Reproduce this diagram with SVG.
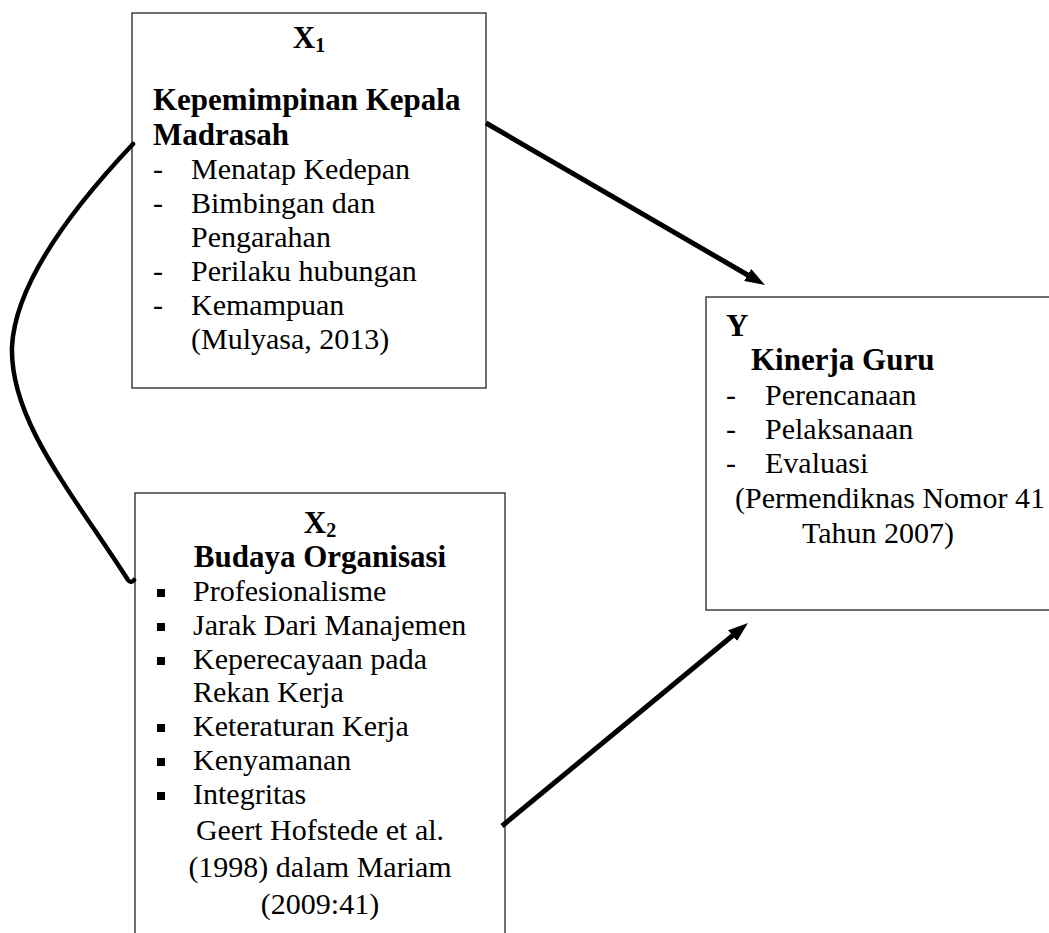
<svg xmlns="http://www.w3.org/2000/svg" width="1049" height="933" viewBox="0 0 1049 933">
<style>
text{font-family:"Liberation Serif","Times New Roman",serif;font-size:30px;fill:#000}
.b{font-weight:bold;font-size:31px}
.m{text-anchor:middle}
.box{fill:#fff;stroke:#222;stroke-width:1.3}
.conn{fill:none;stroke:#000;stroke-width:5}
.curve{fill:none;stroke:#000;stroke-width:4.5;stroke-linecap:round}
</style>
<defs>
<marker id="ah" viewBox="0 0 20 14" refX="5" refY="7" markerWidth="20" markerHeight="14" markerUnits="userSpaceOnUse" orient="auto">
<path d="M0,0 L20,7 L0,14 z" fill="#000"/>
</marker>
</defs>
<g id="node-x1">
<rect class="box" x="132" y="13" width="354" height="375"/>
<text class="b m" x="309" y="48">X<tspan font-size="20" dy="4">1</tspan></text>
<text class="b" x="153" y="110">Kepemimpinan Kepala</text>
<text class="b" x="153" y="145">Madrasah</text>
<text x="153" y="179">-</text><text x="191" y="179">Menatap Kedepan</text>
<text x="153" y="213">-</text><text x="191" y="213">Bimbingan dan</text>
<text x="191" y="247">Pengarahan</text>
<text x="153" y="281">-</text><text x="191" y="281">Perilaku hubungan</text>
<text x="153" y="315">-</text><text x="191" y="315">Kemampuan</text>
<text x="191" y="349">(Mulyasa, 2013)</text>
</g>
<g id="node-x2">
<rect class="box" x="135" y="493" width="370" height="460"/>
<text class="b m" x="320" y="533">X<tspan font-size="20" dy="4">2</tspan></text>
<text class="b m" x="320" y="567">Budaya Organisasi</text>
<g fill="#000">
<rect x="157" y="589" width="8" height="8"/>
<rect x="157" y="623" width="8" height="8"/>
<rect x="157" y="657" width="8" height="8"/>
<rect x="157" y="724" width="8" height="8"/>
<rect x="157" y="758" width="8" height="8"/>
<rect x="157" y="792" width="8" height="8"/>
</g>
<text x="193" y="601">Profesionalisme</text>
<text x="193" y="635">Jarak Dari Manajemen</text>
<text x="193" y="669">Keperecayaan pada</text>
<text x="193" y="702">Rekan Kerja</text>
<text x="193" y="736">Keteraturan Kerja</text>
<text x="193" y="770">Kenyamanan</text>
<text x="193" y="804">Integritas</text>
<text class="m" x="320" y="840">Geert Hofstede et al.</text>
<text class="m" x="320" y="877">(1998) dalam Mariam</text>
<text class="m" x="320" y="914">(2009:41)</text>
</g>
<g id="node-y">
<rect class="box" x="706" y="297" width="360" height="313"/>
<text class="b" x="726" y="336">Y</text>
<text class="b" x="751" y="370">Kinerja Guru</text>
<text x="726" y="405">-</text><text x="765" y="405">Perencanaan</text>
<text x="726" y="439">-</text><text x="765" y="439">Pelaksanaan</text>
<text x="726" y="473">-</text><text x="765" y="473">Evaluasi</text>
<text x="735" y="508">(Permendiknas Nomor 41</text>
<text class="m" x="878" y="543">Tahun 2007)</text>
</g>
<g id="connectors">
<line class="conn" x1="486" y1="123" x2="752" y2="277.5" marker-end="url(#ah)"/>
<line class="conn" x1="502" y1="826" x2="736.4" y2="632.5" marker-end="url(#ah)"/>
<path class="curve" d="M133,144 C80,200 15,280 12,347 C10,420 70,490 128,580 q3,4 6,0"/>
</g>
</svg>
